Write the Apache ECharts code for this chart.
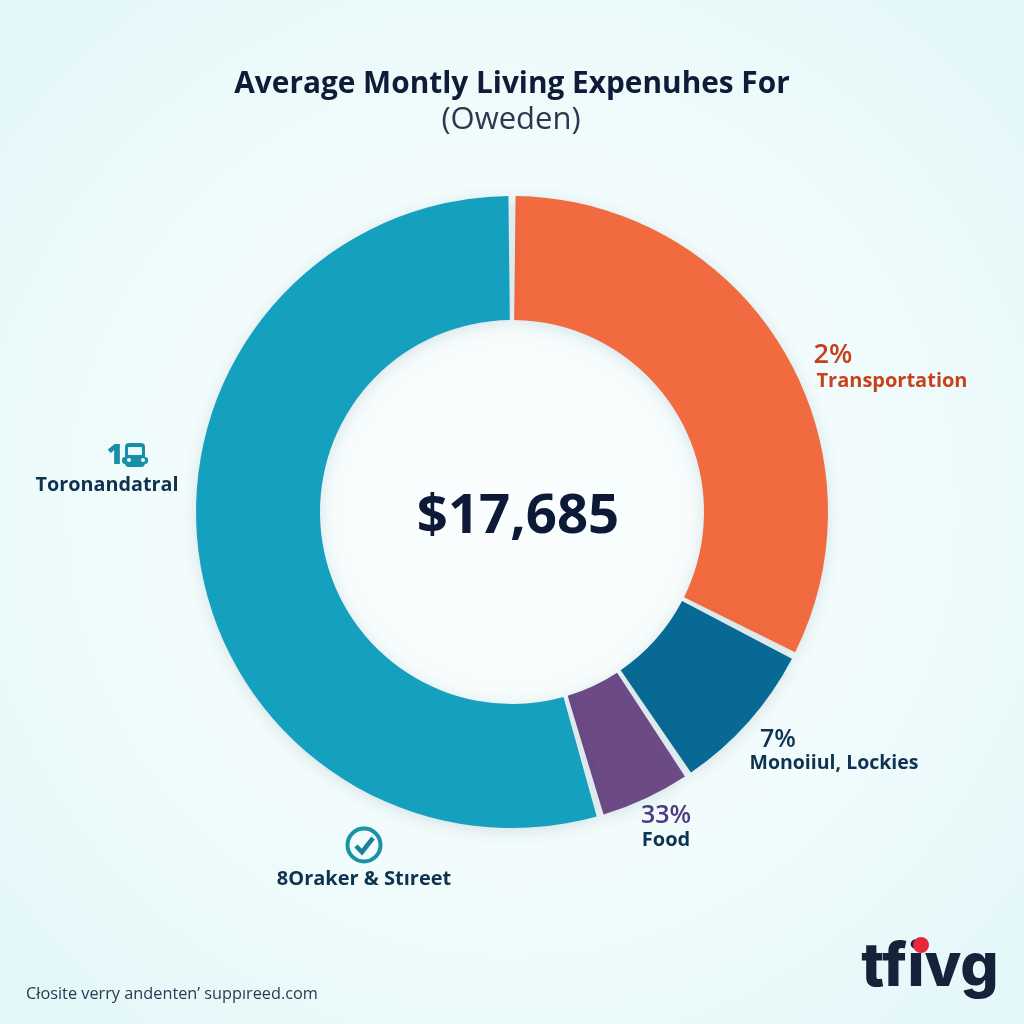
<!DOCTYPE html>
<html><head><meta charset="utf-8">
<style>html,body{margin:0;padding:0;background:#e6f9fa}#c{width:1024px;height:1024px}</style>
<script src="https://cdn.jsdelivr.net/npm/echarts@6/dist/echarts.min.js"></script>
</head><body><div id="c"></div>
<script>
const categories = ['Transportation','Monoiiul, Lockies','Food','8Oraker & Stıreet'];
const values = [32.5, 8.1, 4.9, 54.5];
const colors = ['#f26a40','#086a94','#6b4a85','#16a0c0'];
const titleLines = ['Average Montly Living Expenuhes For','(Oweden)'];
const centerText = '$17,685';
const footer = 'Cłosite verry andenten\u2019 suppıreed.com';
const font = '"Open Sans","Noto Sans",sans-serif';
function t(x,y,text,size,weight,fill,align,extra){
  return {type:'text',x,y,silent:true,style:Object.assign({text,font:weight+' '+size+'px '+font,fill,align:align||'center',verticalAlign:'middle'},extra||{})};
}
const chart = echarts.init(document.getElementById('c'),null,{renderer:'canvas'});
chart.setOption({
  animation:false,
  backgroundColor:{type:'radial',x:0.5,y:0.5,r:0.72,colorStops:[{offset:0,color:'#fbfefe'},{offset:0.45,color:'#f3fcfc'},{offset:1,color:'#e1f7f9'}]},
  series:[{
    type:'pie',center:[512,512],radius:[192,316],startAngle:90,clockwise:true,padAngle:1.3,
    label:{show:false},labelLine:{show:false},silent:true,
    itemStyle:{shadowBlur:16,shadowColor:'rgba(20,70,90,0.14)',shadowOffsetY:3},
    data:categories.map((name,i)=>({name,value:values[i],itemStyle:{color:colors[i]}}))
  }],
  graphic:{elements:[
    t(512,85,titleLines[0],29.8,700,'#0e1c38'),
    t(511,120,titleLines[1],31,400,'#2a3850'),
    t(518,517,centerText,54.5,700,'#0c1a38'),
    t(833,355,'2%',27,600,'#c8401c'),
    t(892,381,categories[0],20,700,'#c8401c'),
    t(778,740,'7%',25,600,'#0e3350'),
    t(834,763,categories[1],19.5,700,'#0e3350'),
    t(666,816,'33%',25,600,'#4f3b80'),
    t(666,840,categories[2],20,700,'#0e3350'),
    t(364,879,categories[3],20,700,'#0e3350'),
    t(107,485,'Toronandatral',19.8,700,'#0e3350'),
    t(115,456,'1',29,800,'#178fa8'),
    // bus icon
    {type:'group',silent:true,children:[
      {type:'rect',shape:{x:125,y:443,width:20,height:24,r:4},style:{fill:'#178fa8'}},
      {type:'rect',shape:{x:128,y:447,width:14,height:8,r:1},style:{fill:'#eafafa'}},
      {type:'rect',shape:{x:122,y:457,width:26,height:7,r:3},style:{fill:'#178fa8'}},
      {type:'circle',shape:{cx:143,cy:460,r:2},style:{fill:'#eafafa'}},
      {type:'circle',shape:{cx:129,cy:460,r:2},style:{fill:'#eafafa'}}
    ]},
    // check icon
    {type:'circle',silent:true,shape:{cx:364,cy:845,r:16.5},style:{fill:'none',stroke:'#1a93a8',lineWidth:4}},
    {type:'polyline',silent:true,shape:{points:[[356,846],[362,852],[373,838]]},style:{fill:'none',stroke:'#1a7f98',lineWidth:4.5}},
    t(172,994,footer,16.3,400,'#2a3a50'),
    // logo
    t(930,968,'tfivg',60,800,'#16213a',"center",{font:'800 60px Inter,"Open Sans",sans-serif'}),
    {type:'circle',silent:true,shape:{cx:921,cy:945,r:8},style:{fill:'#e8283a'}}
  ]}
});
</script></body></html>
